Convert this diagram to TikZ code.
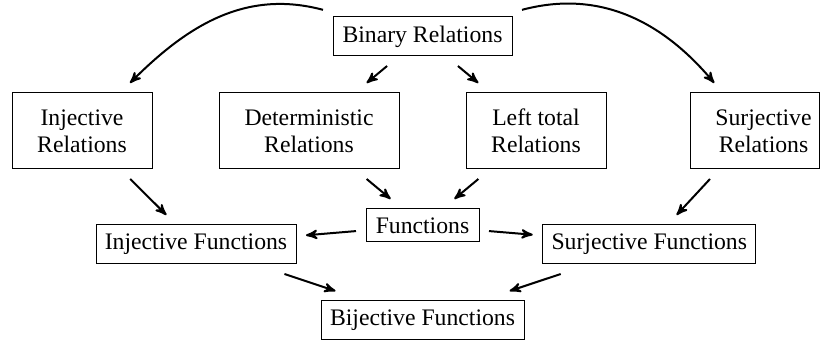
\documentclass[tikz,border=0pt]{standalone}
\usepackage{fontspec}
\setmainfont{Liberation Serif}
\usetikzlibrary{arrows}

\begin{document}
\begin{tikzpicture}[>=stealth',x=0.5pt,y=-0.5pt,line width=1pt,
    box/.style={draw,line width=0.5pt,inner sep=0pt,outer sep=5pt,align=center,
      minimum height=19.5pt,font=\fontsize{11.85}{13.5}\selectfont},
    tall/.style={box,minimum height=38pt}]
      \useasboundingbox (0,0) rectangle (823,341);

      \node[box,minimum width=89.5pt]  (binrel) at (422.5,36.5) {Binary Relations};
      \node[tall,minimum width=70pt]   (injrel) at (82,131)     {Injective\\Relations};
      \node[tall,minimum width=90pt]   (detrel) at (309,131)    {Deterministic\\Relations};
      \node[tall,minimum width=70pt]   (ltrel)  at (536,131)    {Left total\\Relations};
      \node[tall,minimum width=64.5pt] (surrel) at (754.5,131)
            {\hspace*{9pt}Surjective\\\hspace*{9pt}Relations};
      \node[box,minimum width=56.5pt,minimum height=16.5pt] (fun) at (422.5,225.5) {Functions};
      \node[box,minimum width=100pt]   (injfun) at (196,244.5)   {Injective Functions};
      \node[box,minimum width=106.5pt] (surfun) at (649.25,244.5) {Surjective Functions};
      \node[box,minimum width=101.5pt,minimum height=19pt] (bijfun) at (422.5,320) {Bijective Functions};

      \path[->] (binrel) edge[out=165,in=45]  (injrel);
      \path[->] (binrel) edge[out=15,in=130]  (surrel);
      \path[->] (binrel) edge (detrel);
      \path[->] (binrel) edge (ltrel);
      \path[->] (injrel) edge (injfun);
      \path[->] (detrel) edge (fun);
      \path[->] (ltrel)  edge (fun);
      \path[->] (surrel) edge (surfun);
      \path[->] (fun)    edge (injfun);
      \path[->] (fun)    edge (surfun);
      \path[->] (injfun) edge (bijfun);
      \path[->] (surfun) edge (bijfun);
    \end{tikzpicture}
\end{document}
